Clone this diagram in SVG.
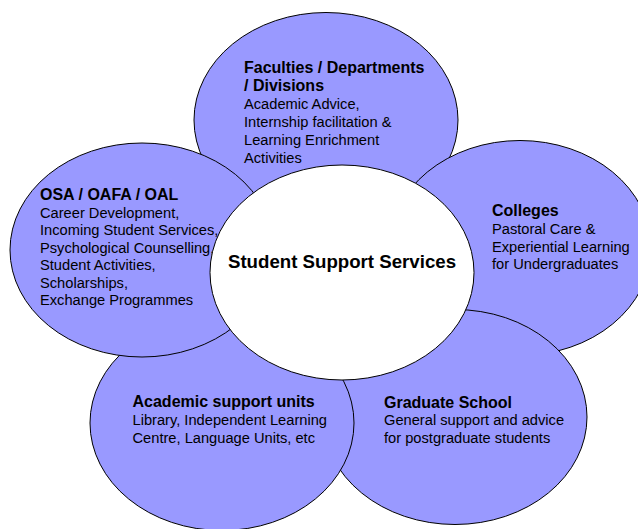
<svg xmlns="http://www.w3.org/2000/svg" width="638" height="529" viewBox="0 0 638 529">
<style>
.bub{fill:#9999FF;stroke:#000;stroke-width:1}
.hub{fill:#FFFFFF;stroke:#000;stroke-width:1}
text{font-family:"Liberation Sans",Arial,sans-serif;fill:#000}
.h{font-weight:bold;font-size:16px}
.b{font-size:14.67px}
.c{font-weight:bold;font-size:18.67px}
</style>
<rect width="638" height="529" fill="#FFFFFF"/>
<g id="faculties">
<ellipse class="bub" cx="326" cy="120" rx="132" ry="107.5"/>
<text x="244" y="73" class="h">Faculties / Departments</text>
<text x="244" y="91" class="h">/ Divisions</text>
<text x="244" y="109.3" class="b">Academic Advice,</text>
<text x="244" y="127.3" class="b">Internship facilitation &amp;</text>
<text x="244" y="145" class="b">Learning Enrichment</text>
<text x="244" y="162.5" class="b">Activities</text>
</g>
<g id="colleges">
<ellipse class="bub" cx="520" cy="248" rx="131" ry="107.5"/>
<text x="492" y="216" class="h">Colleges</text>
<text x="492" y="233.5" class="b">Pastoral Care &amp;</text>
<text x="492" y="251.5" class="b">Experiential Learning</text>
<text x="492" y="269" class="b">for Undergraduates</text>
</g>
<g id="graduate">
<ellipse class="bub" cx="455" cy="417" rx="132" ry="107.5"/>
<text x="384" y="407.7" class="h">Graduate School</text>
<text x="384" y="425" class="b">General support and advice</text>
<text x="384" y="442.7" class="b">for postgraduate students</text>
</g>
<g id="academic">
<ellipse class="bub" cx="222" cy="423" rx="132" ry="107.5"/>
<text x="132.5" y="407.3" class="h">Academic support units</text>
<text x="132.5" y="425" class="b">Library, Independent Learning</text>
<text x="132.5" y="442.5" class="b">Centre, Language Units, etc</text>
</g>
<g id="osa">
<ellipse class="bub" cx="142" cy="250" rx="132" ry="107"/>
<text x="40" y="200" class="h">OSA / OAFA / OAL</text>
<text x="40" y="217.5" class="b">Career Development,</text>
<text x="40" y="235" class="b">Incoming Student Services,</text>
<text x="40" y="252.7" class="b">Psychological Counselling,</text>
<text x="40" y="270.2" class="b">Student Activities,</text>
<text x="40" y="287.7" class="b">Scholarships,</text>
<text x="40" y="305.2" class="b">Exchange Programmes</text>
</g>
<g id="center">
<ellipse class="hub" cx="342" cy="272.5" rx="132" ry="107.5"/>
<text x="342" y="268" class="c" text-anchor="middle">Student Support Services</text>
</g>
<g id="connectors"></g>
</svg>
